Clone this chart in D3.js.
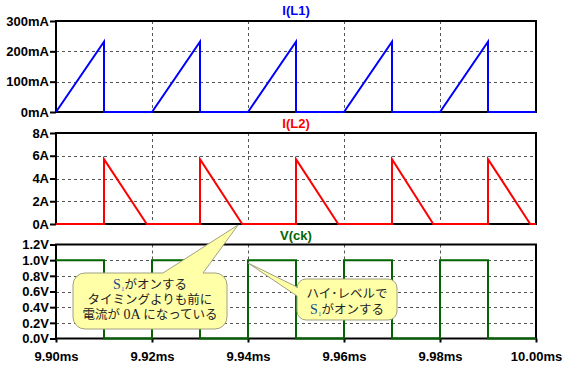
<!DOCTYPE html>
<html>
<head>
<meta charset="utf-8">
<script src="https://cdn.jsdelivr.net/npm/d3@7"></script>
<style>
  html, body { margin: 0; padding: 0; background: #fff; }
  svg { display: block; }
</style>
</head>
<body>
<svg width="564" height="365"></svg>
<script>
// time axis ticks (ms)
const xTicks = [9.90, 9.92, 9.94, 9.96, 9.98, 10.00];

// I(L1) in mA : [time ms, value]
const iL1 = [
  [9.900, 0], [9.910, 232], [9.910, 0], [9.920, 0],
  [9.930, 232], [9.930, 0], [9.940, 0],
  [9.950, 232], [9.950, 0], [9.960, 0],
  [9.970, 232], [9.970, 0], [9.980, 0],
  [9.990, 232], [9.990, 0], [10.000, 0]
];
const iL1Ticks = [0, 100, 200, 300];

// I(L2) in A
const iL2 = [
  [9.900, 0], [9.910, 0], [9.910, 5.7], [9.9189, 0],
  [9.930, 0], [9.930, 5.7], [9.9388, 0],
  [9.950, 0], [9.950, 5.7], [9.9588, 0],
  [9.970, 0], [9.970, 5.7], [9.9786, 0],
  [9.990, 0], [9.990, 5.7], [9.9988, 0], [10.000, 0]
];
const iL2Ticks = [0, 2, 4, 6, 8];

// V(ck) in V
const vck = [
  [9.90, 1], [9.91, 1], [9.91, 0], [9.92, 0],
  [9.92, 1], [9.93, 1], [9.93, 0], [9.94, 0],
  [9.94, 1], [9.95, 1], [9.95, 0], [9.96, 0],
  [9.96, 1], [9.97, 1], [9.97, 0], [9.98, 0],
  [9.98, 1], [9.99, 1], [9.99, 0], [10.00, 0]
];
const vckTicks = [0, 0.2, 0.4, 0.6, 0.8, 1.0, 1.2];

// balloon texts
const note1 = [["S1", "がオンする"], ["タイミングよりも前に"], ["電流が", "0A", "になっている"]];
const note2 = [["ハイ･レベルで"], ["S1", "がオンする"]];

const svg = d3.select("svg");
const left = 56, right = 536;
const labelFont = "'Liberation Sans', Arial, sans-serif";

const x = d3.scaleLinear().domain([9.90, 10.00]).range([left, right]);

// panels
const panels = [
  { title: "I(L1)", color: "#0000ff", data: iL1, ticks: iL1Ticks, max: 300, top: 21, bottom: 112, titleY: 15,
    fmt: d => d + "mA" },
  { title: "I(L2)", color: "#ff0000", data: iL2, ticks: iL2Ticks, max: 8, top: 133, bottom: 224, titleY: 128,
    fmt: d => d + "A" },
  { title: "V(ck)", color: "#006400", data: vck, ticks: vckTicks, max: 1.2, top: 244.5, bottom: 338.5, titleY: 240,
    fmt: d => d.toFixed(1) + "V", xAxis: true }
];

panels.forEach(function (p) {
  const y = d3.scaleLinear().domain([0, p.max]).range([p.bottom, p.top]);
  const g = svg.append("g");

  // grid
  g.selectAll(".hg").data(p.ticks.slice(1, -1)).enter().append("line")
    .attr("x1", left).attr("x2", right)
    .attr("y1", d => Math.round(y(d)) + 0.5).attr("y2", d => Math.round(y(d)) + 0.5)
    .attr("stroke", "#555").attr("stroke-dasharray", "3,3");
  g.selectAll(".vg").data(xTicks.slice(1, -1)).enter().append("line")
    .attr("x1", d => Math.round(x(d)) + 0.5).attr("x2", d => Math.round(x(d)) + 0.5)
    .attr("y1", p.top).attr("y2", p.bottom)
    .attr("stroke", "#555").attr("stroke-dasharray", "3,3");

  // y axis
  const ya = g.append("g")
    .attr("transform", "translate(" + left + ",0)")
    .call(d3.axisLeft(y).tickValues(p.ticks).tickFormat(p.fmt).tickSize(6).tickPadding(1));
  ya.select(".domain").remove();
  ya.selectAll("line").attr("stroke", "#000").attr("stroke-width", 2);
  ya.selectAll("text").attr("fill", "#000")
    .style("font-family", labelFont).style("font-weight", "bold").style("font-size", "13px");

  // x axis (bottom panel only)
  if (p.xAxis) {
    const xa = g.append("g")
      .attr("transform", "translate(0," + p.bottom + ")")
      .call(d3.axisBottom(x).tickValues(xTicks).tickFormat(d => d.toFixed(2) + "ms").tickSize(4).tickPadding(9));
    xa.select(".domain").remove();
    xa.selectAll("line").attr("stroke", "#000").attr("stroke-width", 2);
    xa.selectAll("text").attr("fill", "#000")
      .style("font-family", labelFont).style("font-weight", "bold").style("font-size", "13px");
  }

  // frame
  g.append("rect")
    .attr("x", left).attr("y", p.top)
    .attr("width", right - left).attr("height", p.bottom - p.top)
    .attr("fill", "none").attr("stroke", "#000").attr("stroke-width", 2);

  // waveform
  const line = d3.line().x(d => x(d[0])).y(d => y(d[1]));
  g.append("path")
    .datum(p.data)
    .attr("d", line)
    .attr("fill", "none")
    .attr("stroke", p.color)
    .attr("stroke-width", 2);

  // title
  g.append("text")
    .attr("x", (left + right) / 2)
    .attr("y", p.titleY)
    .attr("text-anchor", "middle")
    .attr("fill", p.color)
    .style("font-family", labelFont).style("font-weight", "bold").style("font-size", "13px")
    .text(p.title);
});

// callout balloons
function balloonTop(b) {
  const r = b.r;
  return "M" + (b.x0 + r) + "," + b.y0 +
    "L" + b.p0 + "," + b.y0 + "L" + b.tx + "," + b.ty + "L" + b.p1 + "," + b.y0 +
    "L" + (b.x1 - r) + "," + b.y0 + "A" + r + "," + r + " 0 0 1 " + b.x1 + "," + (b.y0 + r) +
    "L" + b.x1 + "," + (b.y1 - r) + "A" + r + "," + r + " 0 0 1 " + (b.x1 - r) + "," + b.y1 +
    "L" + (b.x0 + r) + "," + b.y1 + "A" + r + "," + r + " 0 0 1 " + b.x0 + "," + (b.y1 - r) +
    "L" + b.x0 + "," + (b.y0 + r) + "A" + r + "," + r + " 0 0 1 " + (b.x0 + r) + "," + b.y0 + "Z";
}
function balloonLeft(b) {
  const r = b.r;
  return "M" + (b.x0 + r) + "," + b.y0 +
    "L" + (b.x1 - r) + "," + b.y0 + "A" + r + "," + r + " 0 0 1 " + b.x1 + "," + (b.y0 + r) +
    "L" + b.x1 + "," + (b.y1 - r) + "A" + r + "," + r + " 0 0 1 " + (b.x1 - r) + "," + b.y1 +
    "L" + (b.x0 + r) + "," + b.y1 + "A" + r + "," + r + " 0 0 1 " + b.x0 + "," + (b.y1 - r) +
    "L" + b.x0 + "," + b.p1 + "L" + b.tx + "," + b.ty + "L" + b.x0 + "," + b.p0 +
    "L" + b.x0 + "," + (b.y0 + r) + "A" + r + "," + r + " 0 0 1 " + (b.x0 + r) + "," + b.y0 + "Z";
}

const cjk = "'Noto Sans CJK JP', sans-serif";
const serif = "'Liberation Serif', 'Times New Roman', serif";

// balloon text: one <text>, lines are tspans; "S1" = S with subscript 1, "0A" = serif 0A
function addNote(cx, firstY, step, lines) {
  const t = svg.append("text")
    .attr("text-anchor", "middle")
    .attr("fill", "#222")
    .style("font-family", cjk).style("font-size", "12.5px");
  lines.forEach(function (parts, i) {
    const row = t.append("tspan").attr("x", cx).attr("y", firstY + i * step);
    let shift = 0;
    parts.forEach(function (s) {
      if (s === "S1") {
        row.append("tspan").style("font-family", serif).style("font-size", "14px").attr("fill", "#1a4a8a").text("S");
        row.append("tspan").style("font-family", serif).style("font-size", "7px").attr("fill", "#3366cc").attr("dy", 2).text("1");
        shift = -2;
      } else if (s === "0A") {
        row.append("tspan").style("font-family", serif).style("font-size", "14px").text(" 0A ");
      } else {
        const ts = row.append("tspan").text(s);
        if (shift) { ts.attr("dy", shift); shift = 0; }
      }
    });
  });
}

// balloon 1
svg.append("path")
  .attr("d", balloonTop({ x0: 73, y0: 273, x1: 227, y1: 329, r: 12, p0: 163, p1: 203, tx: 238, ty: 225 }))
  .attr("fill", "#ffffa8").attr("stroke", "#a0a080").attr("stroke-width", 1);
addNote(150, 288.5, 15, note1);

// balloon 2
svg.append("path")
  .attr("d", balloonLeft({ x0: 297, y0: 279, x1: 397, y1: 320, r: 9, p0: 287, p1: 296, tx: 248, ty: 263 }))
  .attr("fill", "#ffffa8").attr("stroke", "#a0a080").attr("stroke-width", 1);
addNote(347, 298, 15.5, note2);
</script>
</body>
</html>
